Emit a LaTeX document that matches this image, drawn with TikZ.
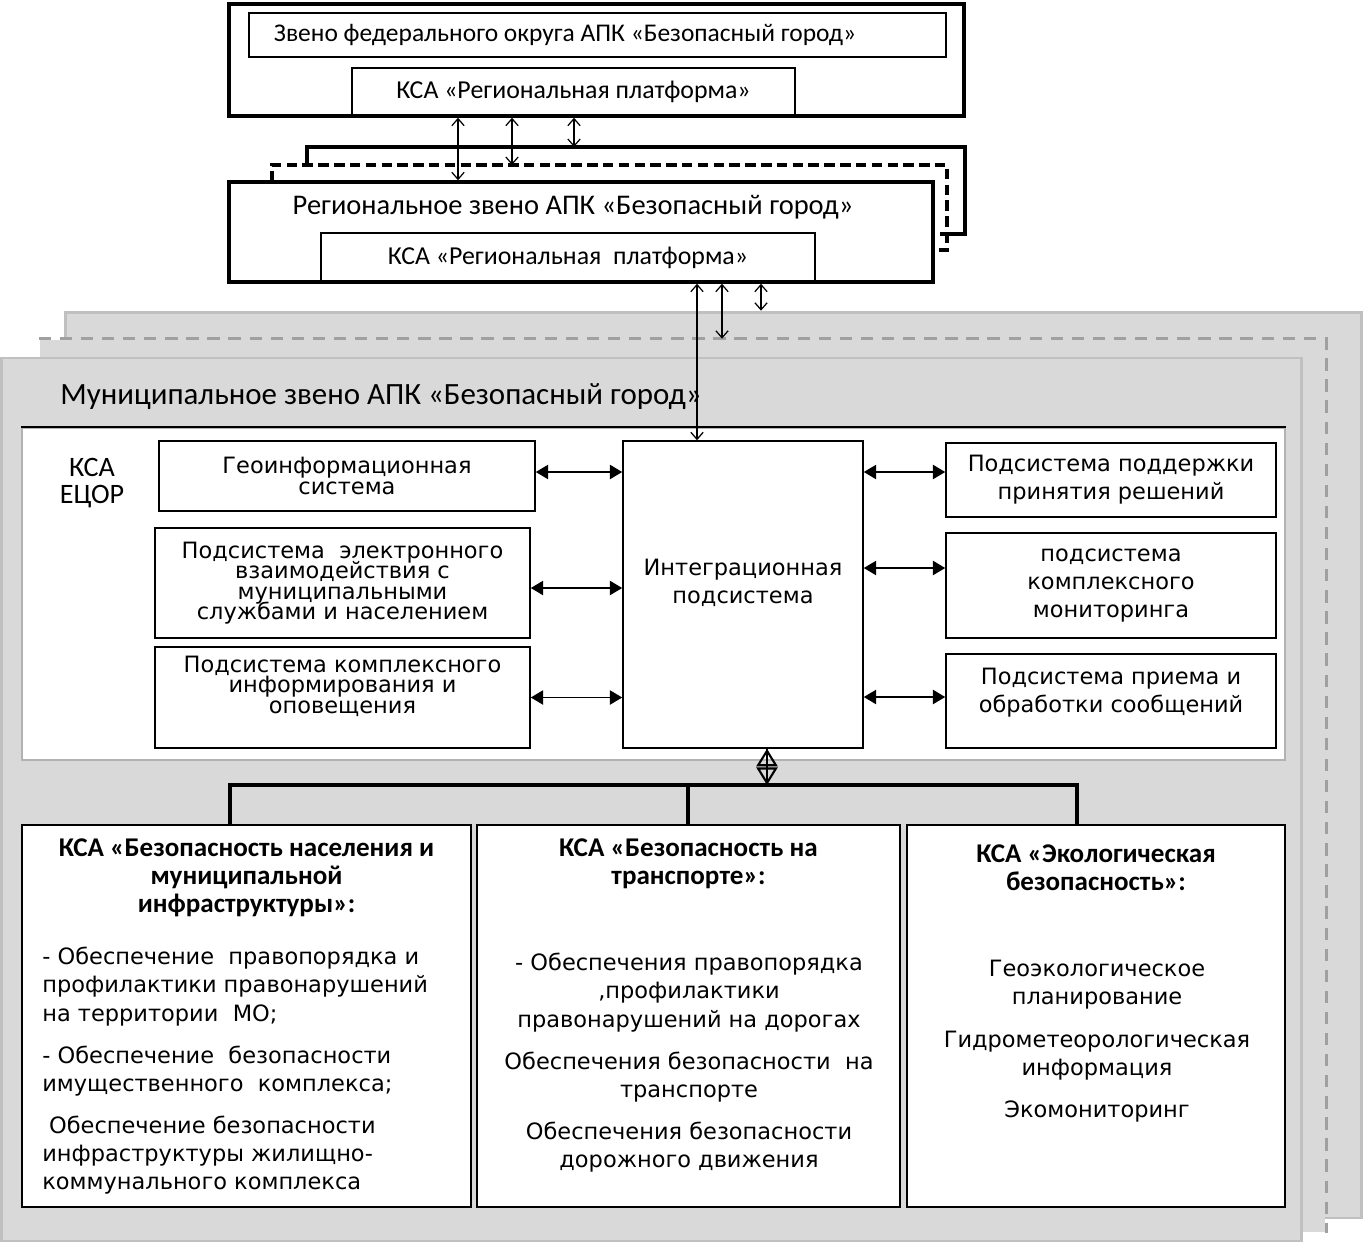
\documentclass[tikz,border=0pt]{standalone}
\usepackage{fontspec}
\setmainfont{Carlito}
\newfontfamily\verd{DejaVu Sans}
\usetikzlibrary{arrows.meta, positioning, calc}
\definecolor{layergray}{RGB}{217,217,217}
\definecolor{layerline}{RGB}{192,192,192}
\definecolor{dashgray}{RGB}{160,160,160}
\newcommand\tightlines{\lineskiplimit -20pt\relax}

\begin{document}
\begin{tikzpicture}[
    x=0.02cm, y=-0.02cm,
    frame/.style={draw, line width=2pt, inner sep=0pt},
    box/.style={draw, line width=0.9pt, fill=white, inner sep=0pt, align=center},
    lbox/.style={box, font=\verd\fontsize{12.8}{11.6}\selectfont\tightlines},
    rbox/.style={box, font=\verd\fontsize{12.8}{16}\selectfont},
    boxtext/.style={inner sep=0pt, align=center},
    layer/.style={draw=layerline, line width=1.6pt, fill=layergray, inner sep=0pt},
    link/.style={{Straight Barb[length=4pt,width=7pt]}-{Straight Barb[length=4pt,width=7pt]}, line width=0.7pt},
    harrow/.style={{Triangle[length=7pt,width=8pt]}-{Triangle[length=7pt,width=8pt]}, line width=1.1pt},
    bus/.style={line width=2.6pt},
    head/.style={font=\bfseries\fontsize{15.4}{16}\selectfont, align=center, inner sep=0pt, anchor=north},
    body/.style={font=\verd\fontsize{12.8}{16}\selectfont, inner sep=0pt, anchor=north}
]
    \fill[white] (0,0) rectangle (1365,1244);
    \useasboundingbox (0,0) rectangle (1365,1244);

    % Federal level
    \node[box, minimum width=13.94cm, minimum height=0.88cm, font=\fontsize{14.5}{16}\selectfont] (fedname) at (597.5,35) {Звено федерального округа АПК «Безопасный город»\hspace*{1.3cm}};
    \node[box, minimum width=8.86cm, minimum height=0.96cm, font=\fontsize{14.7}{16}\selectfont] (fedksa) at (573.5,92) {КСА «Региональная платформа»};
    \node[frame, minimum width=14.7cm, minimum height=2.24cm] (fed) at (596.5,60) {};

    % Regional level (copies behind)
    \coordinate (regback) at (307,147);
    \coordinate (regmid) at (272,165);
    \draw[line width=2pt] (307,165) -- (regback) -- (965,147) -- (965,234) -- (940,234);
    \draw[line width=2pt, dash pattern=on 6pt off 3pt] (272,182) -- (regmid) -- (947,165) -- (947,250) -- (935,250);
    \node[box, minimum width=9.88cm, minimum height=0.98cm, font=\fontsize{14.7}{16}\selectfont] (regksa) at (568,257.5) {КСА «Региональная\ \ платформа»};
    \node[frame, minimum width=14.08cm, minimum height=2cm] (reg) at (581,232) {};
    \node[font=\fontsize{16.2}{18}\selectfont] (regname) at (573,207) {Региональное звено АПК «Безопасный город»};

    % Links federal - regional
    \coordinate (c1) at (458,0);
    \coordinate (c2) at (512,0);
    \coordinate (c3) at (574,0);
    \draw[link] (fed.south -| c1) -- (reg.north -| c1);
    \draw[link] (fed.south -| c2) -- (regmid -| c2);
    \draw[link] (fed.south -| c3) -- (regback -| c3);

    % Municipal level (copies behind)
    \node[layer, minimum width=25.94cm, minimum height=18.12cm] (munback) at (713.5,765) {};
    \node[layer, draw=none, minimum width=25.7cm, minimum height=17.84cm] (munmid) at (682.5,786) {};
    \draw[dashgray, line width=1.6pt, dash pattern=on 7pt off 5pt] (munmid.north west) -- (munmid.north east) -- (munmid.south east);
    \node[layer, minimum width=26cm, minimum height=17.66cm] (munfront) at (651.5,799.5) {};
    \node[anchor=west, inner sep=0pt, font=\fontsize{17.6}{20}\selectfont] (munname) at (60,397) {Муниципальное звено АПК «Безопасный город»};

    % KSA ECOR
    \node[draw=gray!60, line width=0.8pt, fill=white, inner sep=0pt, minimum width=25.26cm, minimum height=6.64cm] (ecor) at (653.5,594) {};
    \draw[line width=1pt] (ecor.north west) -- (ecor.north east);
    \node[align=center, font=\fontsize{16}{15.5}\selectfont] (ecorname) at (92,483) {КСА\\ЕЦОР};

    \node[lbox, minimum width=7.52cm, minimum height=1.4cm] (geo) at (347,476) {Геоинформационная\\система};
    \node[lbox, minimum width=7.5cm, minimum height=2.2cm] (elec) at (342.5,583) {Подсистема\ \ электронного\\взаимодействия с\\муниципальными\\службами и населением};
    \node[lbox, minimum width=7.5cm, minimum height=2.02cm] (inform) at (342.5,697.5) {};
    \node[boxtext, font=\verd\fontsize{12.8}{11.6}\selectfont\tightlines] (informtext) at (342.5,686) {Подсистема комплексного\\информирования и\\оповещения};
    \node[rbox, minimum width=4.8cm, minimum height=6.14cm] (integ) at (743,594.5) {};
    \node[boxtext, font=\verd\fontsize{12.8}{16}\selectfont] (integtext) at (743,583) {Интеграционная\\подсистема};
    \node[rbox, minimum width=6.6cm, minimum height=1.48cm] (dss) at (1111,480) {Подсистема поддержки\\принятия решений};
    \node[rbox, minimum width=6.6cm, minimum height=2.1cm] (monit) at (1111,585.5) {подсистема\\комплексного\\мониторинга};
    \node[rbox, minimum width=6.6cm, minimum height=1.88cm] (msg) at (1111,701) {};
    \node[boxtext, font=\verd\fontsize{12.8}{16}\selectfont] (msgtext) at (1111,693) {Подсистема приема и\\обработки сообщений};

    \draw[harrow] ([yshift=0.08cm]geo.east) -- ([yshift=0.08cm]geo.east -| integ.west);
    \draw[harrow] ([yshift=-0.1cm]elec.east) -- ([yshift=-0.1cm]elec.east -| integ.west);
    \draw[harrow] (inform.east) -- (inform.east -| integ.west);
    \draw[harrow] ([yshift=0.16cm]integ.east |- dss.west) -- ([yshift=0.16cm]dss.west);
    \draw[harrow] ([yshift=0.35cm]integ.east |- monit.west) -- ([yshift=0.35cm]monit.west);
    \draw[harrow] ([yshift=0.08cm]integ.east |- msg.west) -- ([yshift=0.08cm]msg.west);

    % Links regional - municipal
    \coordinate (c4) at (697,0);
    \coordinate (c5) at (722,0);
    \coordinate (c6) at (761,0);
    \draw[link] (reg.south -| c4) -- (integ.north -| c4);
    \draw[link] (reg.south -| c5) -- (munmid.north -| c5);
    \draw[link] (reg.south -| c6) -- (munback.north -| c6);

    % KSA blocks
    \node[box, minimum width=8.98cm, minimum height=7.64cm] (pop) at (246.5,1016) {};
    \node[box, minimum width=8.46cm, minimum height=7.64cm] (trans) at (688.5,1016) {};
    \node[box, minimum width=7.56cm, minimum height=7.64cm] (eco) at (1096,1016) {};

    \node[head] (pophead) at (246.5,838) {КСА «Безопасность населения и\\муниципальной\\инфраструктуры»:};
    \node[body, anchor=north west, align=left] (popbody) at (42,947) {- Обеспечение\ \ правопорядка и\\профилактики правонарушений\\на территории\ \ МО;\\[8pt]- Обеспечение\ \ безопасности\\имущественного\ \ комплекса;\\[8pt]\hspace{0.3em}Обеспечение безопасности\\инфраструктуры жилищно-\\коммунального комплекса};
    \node[head] (transhead) at (688.5,838) {КСА «Безопасность на\\транспорте»:};
    \node[body, align=center] (transbody) at (689,953) {- Обеспечения правопорядка\\,профилактики\\правонарушений на дорогах\\[8pt]Обеспечения безопасности\ \ на\\транспорте\\[8pt]Обеспечения безопасности\\дорожного движения};
    \node[head] (ecohead) at (1096,844) {КСА «Экологическая\\безопасность»:};
    \node[body, align=center] (ecobody) at (1097,960) {Геоэкологическое\\планирование\\[8pt]Гидрометеорологическая\\информация\\[8pt]Экомониторинг};

    % Bus to KSA blocks
    \coordinate (busmid) at (767,785);
    \coordinate (dropA) at (230,785);
    \coordinate (dropB) at (688,785);
    \coordinate (dropC) at (1077,785);
    \draw[line width=1.2pt] (integ.south -| busmid) -- (busmid);
    \draw[line width=1.2pt, {Triangle[open,length=10pt,width=12pt]}-{Triangle[open,length=10pt,width=12pt]}] (integ.south -| busmid) -- (busmid);
    \draw[bus] (dropA |- pop.north) -- (dropA) -- (dropC) -- (dropC |- eco.north);
    \draw[bus] (dropB) -- (dropB |- trans.north);
\end{tikzpicture}
\end{document}
